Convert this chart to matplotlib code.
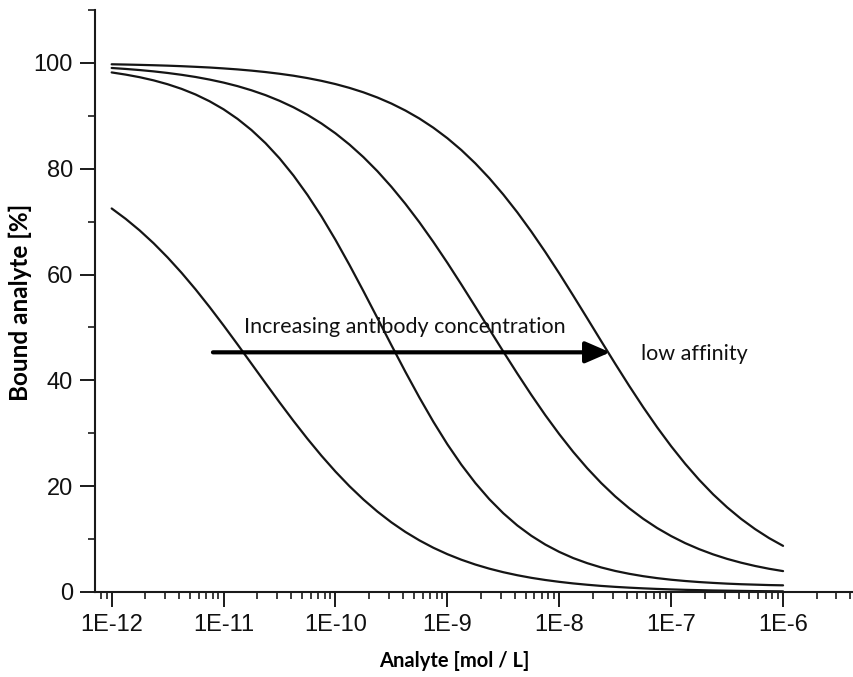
import numpy as np
import matplotlib
matplotlib.use("Agg")
import matplotlib.pyplot as plt
from matplotlib.ticker import LogLocator, FixedLocator, NullFormatter

# ---------------- data ----------------
log_conc = [-12.0, -11.875, -11.75, -11.625, -11.5, -11.375, -11.25, -11.125,
            -11.0, -10.875, -10.75, -10.625, -10.5, -10.375, -10.25, -10.125,
            -10.0, -9.875, -9.75, -9.625, -9.5, -9.375, -9.25, -9.125,
            -9.0, -8.875, -8.75, -8.625, -8.5, -8.375, -8.25, -8.125,
            -8.0, -7.875, -7.75, -7.625, -7.5, -7.375, -7.25, -7.125,
            -7.0, -6.875, -6.75, -6.625, -6.5, -6.375, -6.25, -6.125, -6.0]

curve_1 = [72.49, 70.53, 68.34, 65.91, 63.23, 60.32, 57.19, 53.86,
           50.38, 46.79, 43.13, 39.47, 35.85, 32.33, 28.95, 25.75,
           22.76, 20.00, 17.48, 15.20, 13.16, 11.35, 9.76, 8.36,
           7.15, 6.10, 5.19, 4.41, 3.74, 3.17, 2.68, 2.27,
           1.92, 1.62, 1.37, 1.15, 0.97, 0.82, 0.69, 0.58,
           0.49, 0.41, 0.35, 0.29, 0.25, 0.21, 0.17, 0.15, 0.12]
curve_2 = [98.20, 97.79, 97.30, 96.70, 95.97, 95.09, 94.03, 92.75,
           91.23, 89.42, 87.30, 84.83, 81.97, 78.71, 75.04, 70.99,
           66.56, 61.82, 56.86, 51.77, 46.65, 41.61, 36.76, 32.17,
           27.92, 24.06, 20.60, 17.54, 14.88, 12.58, 10.63, 8.97,
           7.58, 6.41, 5.45, 4.64, 3.98, 3.44, 2.99, 2.62,
           2.32, 2.08, 1.88, 1.72, 1.58, 1.47, 1.39, 1.31, 1.26]
curve_3 = [99.04, 98.86, 98.65, 98.40, 98.10, 97.75, 97.34, 96.85,
           96.28, 95.61, 94.82, 93.91, 92.84, 91.61, 90.19, 88.55,
           86.69, 84.57, 82.19, 79.53, 76.58, 73.36, 69.88, 66.15,
           62.22, 58.12, 53.92, 49.67, 45.44, 41.29, 37.27, 33.43,
           29.83, 26.47, 23.39, 20.59, 18.07, 15.83, 13.84, 12.09,
           10.57, 9.24, 8.10, 7.11, 6.26, 5.54, 4.92, 4.39, 3.95]
curve_4 = [99.74, 99.69, 99.63, 99.56, 99.48, 99.38, 99.26, 99.13,
           98.96, 98.77, 98.54, 98.27, 97.95, 97.58, 97.13, 96.61,
           96.00, 95.28, 94.44, 93.46, 92.32, 91.00, 89.49, 87.75,
           85.77, 83.53, 81.01, 78.21, 75.12, 71.76, 68.13, 64.27,
           60.22, 56.01, 51.73, 47.41, 43.14, 38.96, 34.94, 31.12,
           27.55, 24.24, 21.21, 18.46, 16.01, 13.82, 11.89, 10.19, 8.72]

x_tick_exponents = [-12, -11, -10, -9, -8, -7, -6]
x_tick_labels = ["1E-12", "1E-11", "1E-10", "1E-9", "1E-8", "1E-7", "1E-6"]
y_ticks = [0, 20, 40, 60, 80, 100]
y_minor = [10, 30, 50, 70, 90, 110]

arrow_from_exp, arrow_to_exp, arrow_y = -11.095, -7.545, 45.3
label_arrow = "Increasing antibody concentration"
label_affinity = "low affinity"
xlabel = "Analyte [mol / L]"
ylabel = "Bound analyte [%]"

# ---------------- figure ----------------
W, H = 854, 677
fig = plt.figure(figsize=(W / 100, H / 100), dpi=100)
ax = fig.add_axes([95 / W, 85 / H, (W - 95) / W, (592 - 10) / H])

conc = 10 ** np.array(log_conc)
for ys in (curve_1, curve_2, curve_3, curve_4):
    ax.plot(conc, ys, color="#151515", lw=1.6, solid_capstyle="round")

ax.set_xscale("log")
ax.set_xlim(10 ** -12.149, 10 ** -5.366)
ax.set_ylim(0, 110)

for s in ("top", "right"):
    ax.spines[s].set_visible(False)
for s in ("left", "bottom"):
    ax.spines[s].set_linewidth(1.5)
    ax.spines[s].set_color("#1a1a1a")

ax.xaxis.set_major_locator(FixedLocator([10.0 ** e for e in x_tick_exponents]))
ax.set_xticklabels(x_tick_labels)
ax.xaxis.set_minor_locator(LogLocator(base=10, subs=np.arange(2, 10), numticks=50))
ax.xaxis.set_minor_formatter(NullFormatter())
ax.set_yticks(y_ticks)
ax.set_yticks(y_minor, minor=True)

ax.tick_params(which="major", length=11, width=1.4, color="#1a1a1a",
               labelsize=17, pad=5, labelcolor="#111111")
ax.tick_params(which="minor", length=5, width=1.2, color="#1a1a1a")
for lab in ax.get_xticklabels() + ax.get_yticklabels():
    lab.set_family("Liberation Sans")

ax.set_xlabel(xlabel, family="Lato", fontweight="bold", fontsize=14.5)
ax.set_ylabel(ylabel, family="Lato", fontweight="bold", fontsize=17.5)
ax.xaxis.set_label_coords((454 - 95) / (W - 95), (592 - 651) / 582)
ax.yaxis.set_label_coords((32 - 95) / (W - 95), (592 - 302) / 582)

ax.annotate("", xy=(10 ** arrow_to_exp, arrow_y), xytext=(10 ** arrow_from_exp, arrow_y),
            arrowprops=dict(arrowstyle="-|>,head_length=1.5,head_width=0.65",
                            color="black", lw=3, shrinkA=0, shrinkB=0))
ax.text(10 ** -10.816, 50.0, label_arrow, family="Lato", fontsize=15.5,
        va="center", ha="left", color="#111111")
ax.text(10 ** -7.27, 45.0, label_affinity, family="Lato", fontsize=15.5,
        va="center", ha="left", color="#111111")

fig.savefig("out.png", dpi=100)
